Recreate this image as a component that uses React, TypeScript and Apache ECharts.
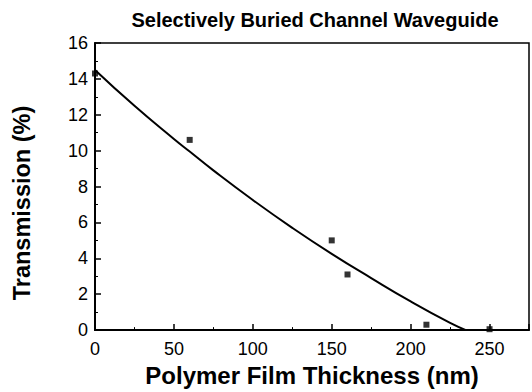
import React, { useEffect, useRef } from "react";
import * as echarts from "echarts";

const thickness = [0, 60, 150, 160, 210, 250];
const transmission = [14.3, 10.6, 5.0, 3.1, 0.3, 0.05];

const fitX = [0, 25, 50, 60, 75, 100, 125, 150, 175, 200, 225, 235];
const fitY = [14.5, 12.5, 10.65, 9.95, 8.9, 7.25, 5.7, 4.25, 2.9, 1.6, 0.4, 0];

const xTicks = [0, 50, 100, 150, 200, 250];

export default function App() {
  const ref = useRef<HTMLDivElement>(null);
  useEffect(() => {
    document.body.style.margin = "0";
    const chart = echarts.init(ref.current!, null, { renderer: "svg" });
    const font = "Liberation Sans, Arial, sans-serif";
    chart.setOption({
      animation: false,
      backgroundColor: "#ffffff",
      title: {
        text: "Selectively Buried Channel Waveguide",
        left: 310,
        top: 5,
        textAlign: "center",
        textStyle: { fontFamily: font, fontWeight: "bold", fontSize: 20, color: "#000" },
      },
      grid: {
        left: 95,
        right: 1,
        top: 43,
        bottom: 59,
        show: true,
        borderColor: "#000",
        borderWidth: 1.5,
        backgroundColor: "transparent",
      },
      graphic: [
        {
          type: "text",
          x: 22,
          y: 203,
          rotation: Math.PI / 2,
          style: {
            text: "Transmission (%)",
            fontFamily: font,
            fontWeight: "bold",
            fontSize: 23.5,
            fill: "#000",
            align: "center",
            verticalAlign: "middle",
          },
        },
      ],
      xAxis: {
        type: "value",
        min: 0,
        max: 275,
        interval: 50,
        name: "Polymer Film Thickness (nm)",
        nameLocation: "middle",
        nameGap: 30,
        nameTextStyle: { fontFamily: font, fontWeight: "bold", fontSize: 24, color: "#000" },
        axisLine: { show: true, onZero: false, lineStyle: { color: "#000", width: 2 } },
        axisTick: { show: true, inside: true, length: 6, lineStyle: { color: "#000", width: 1.5 } },
        minorTick: { show: true, splitNumber: 2, length: 3, lineStyle: { color: "#000", width: 1 } },
        splitLine: { show: false },
        axisLabel: {
          fontFamily: font,
          fontSize: 18,
          color: "#000",
          margin: 10,
          formatter: (v: number) => (xTicks.includes(v) ? String(v) : ""),
        },
      },
      yAxis: {
        type: "value",
        min: 0,
        max: 16,
        interval: 2,
        axisLine: { show: true, onZero: false, lineStyle: { color: "#000", width: 2 } },
        axisTick: { show: true, inside: true, length: 6, lineStyle: { color: "#000", width: 1.5 } },
        minorTick: { show: true, splitNumber: 2, length: 3, lineStyle: { color: "#000", width: 1 } },
        splitLine: { show: false },
        axisLabel: {
          fontFamily: font,
          fontSize: 18,
          color: "#000",
          margin: 7,
        },
      },
      series: [
        {
          type: "line",
          data: fitX.map((x, i) => [x, fitY[i]]),
          smooth: true,
          showSymbol: false,
          lineStyle: { color: "#000", width: 2 },
          z: 2,
        },
        {
          type: "scatter",
          data: thickness.map((x, i) => [x, transmission[i]]),
          symbol: "rect",
          symbolSize: 6,
          itemStyle: { color: "#000" },
          z: 3,
        },
      ],
    });
    return () => chart.dispose();
  }, []);
  return <div ref={ref} style={{ width: 532, height: 392 }} />;
}
